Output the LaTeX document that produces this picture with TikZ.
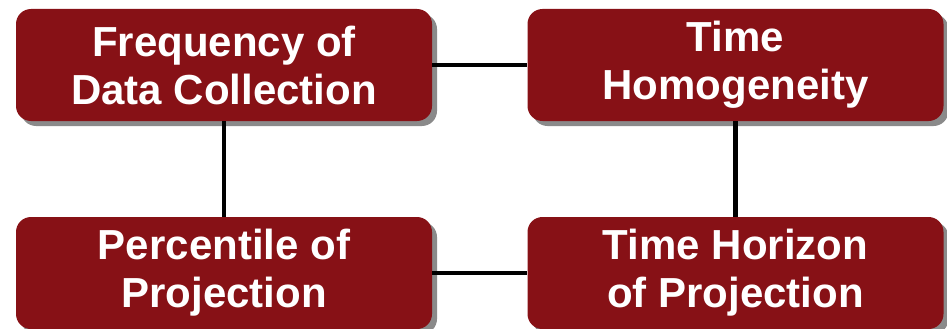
\documentclass[tikz,border=0pt]{standalone}
\usepackage{fontspec}
\setmainfont{Liberation Sans}
\usetikzlibrary{shadows}
\definecolor{boxred}{HTML}{871116}
\definecolor{shadowgray}{HTML}{8A8A8A}
\begin{document}
\begin{tikzpicture}[x=1pt,y=-1pt,
  box/.style={rectangle, rounded corners=15pt, fill=boxred, minimum width=416pt, minimum height=112pt, inner sep=0pt,
    text=white, align=center, font=\bfseries\fontsize{42}{48}\selectfont,
    drop shadow={shadow xshift=5pt, shadow yshift=-5pt, fill=shadowgray, opacity=1}},
  link/.style={line width=4.5pt, draw=black}]
\useasboundingbox (0,0) rectangle (947,329);
\node[box] (tl) at (224,65) {Frequency of\\Data Collection};
\node[box] (tr) at (735.5,65) {Time\\Homogeneity};
\node[box] (bl) at (224,273) {Percentile of\\Projection};
\node[box] (br) at (735.5,273) {Time Horizon\\of Projection};
\draw[link] (tl) -- (tr);
\draw[link] (tl) -- (bl);
\draw[link] (tr) -- (br);
\draw[link] (bl) -- (br);
\end{tikzpicture}
\end{document}
